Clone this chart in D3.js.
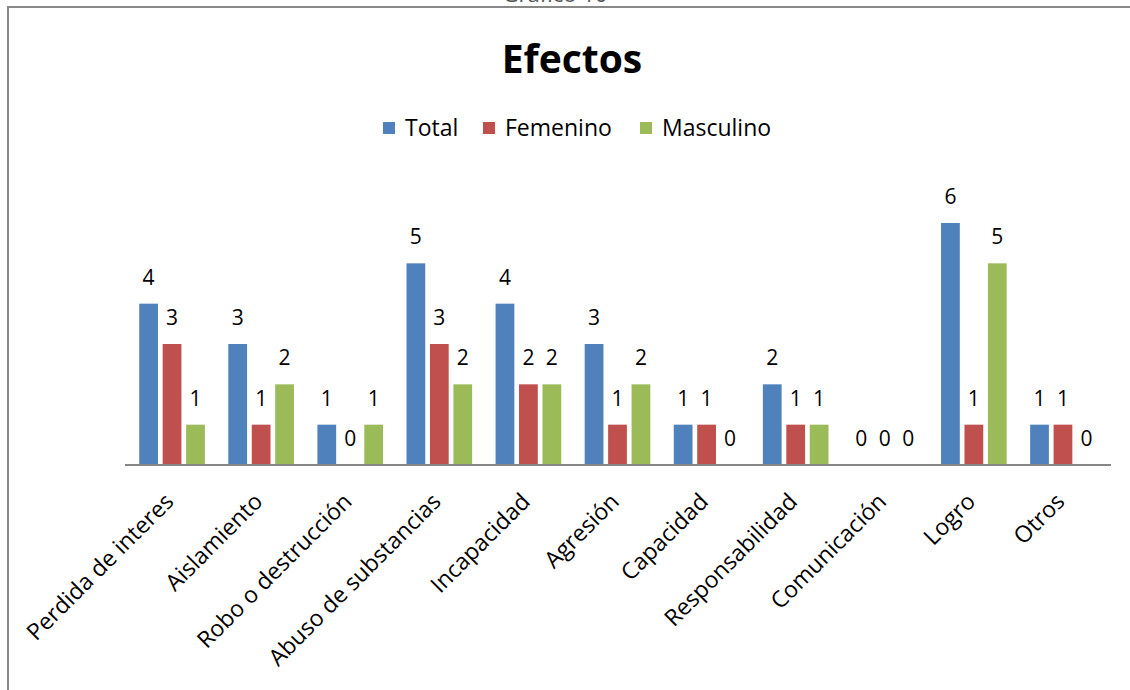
<!DOCTYPE html>
<html><head><meta charset="utf-8">
<script src="https://cdn.jsdelivr.net/npm/d3@7"></script>
<style>
html,body{margin:0;padding:0;background:#fff;overflow:hidden;width:1130px;height:690px}
text{font-family:"Open Sans",Calibri,sans-serif;fill:#000}
</style></head><body>
<svg id="c" width="1130" height="690" style="display:block"></svg>
<script>
const categories = ["Perdida de interes","Aislamiento","Robo o destrucción","Abuso de substancias","Incapacidad","Agresión","Capacidad","Responsabilidad","Comunicación","Logro","Otros"];
const seriesNames = ["Total","Femenino","Masculino"];
const totalValues = [4,3,1,5,4,3,1,2,0,6,1];
const femeninoValues = [3,1,0,3,2,1,1,1,0,1,1];
const masculinoValues = [1,2,1,2,2,2,0,1,0,5,0];
const colors = ["#4F81BD","#C0504D","#9BBB59"];
const seriesValues = [totalValues, femeninoValues, masculinoValues];

const svg = d3.select("#c");
svg.append("rect").attr("width",1130).attr("height",690).attr("fill","#fff");
// frame (top and left edges visible)
svg.append("path").attr("d","M8,700V7H1140").attr("fill","none").attr("stroke","#888").attr("stroke-width",2);
svg.append("text").attr("x",555).attr("y",2).attr("text-anchor","middle")
  .attr("font-size",22).style("fill","#555").text("Gráfico 10");

// title
svg.append("text").attr("x",572).attr("y",73).attr("text-anchor","middle")
  .attr("font-size",39).attr("font-weight","bold").text("Efectos");

const x0 = d3.scaleBand().domain(categories).range([127.5,1107.5]).padding(0);
const x1 = d3.scaleBand().domain(seriesNames).range([0,x0.bandwidth()]).paddingInner(0.2).paddingOuter(0.5);
const y = d3.scaleLinear().domain([0,6]).range([465,223]);

const data = [];
categories.forEach((c,i)=>seriesNames.forEach((s,j)=>data.push({c,s,j,v:seriesValues[j][i]})));

svg.append("g").selectAll("rect").data(data.filter(d=>d.v>0)).join("rect")
  .attr("x",d=>x0(d.c)+x1(d.s)).attr("width",x1.bandwidth())
  .attr("y",d=>y(d.v)).attr("height",d=>y(0)-y(d.v)).attr("fill",d=>colors[d.j]);

svg.append("g").selectAll("text").data(data).join("text")
  .attr("x",d=>x0(d.c)+x1(d.s)+x1.bandwidth()/2).attr("y",d=>y(d.v)-19)
  .attr("text-anchor","middle").attr("font-size",21).text(d=>d.v);

// axis
const ax = svg.append("g").attr("transform","translate(0,465)")
  .call(d3.axisBottom(x0).tickSize(0).tickPadding(0).tickSizeOuter(0));
ax.select(".domain").attr("stroke","#868686").attr("stroke-width",2).attr("d","M125,0H1111");
ax.selectAll(".tick text").attr("font-size",23)
  .style("font-family","'Open Sans',Calibri,sans-serif").style("fill","#000")
  .attr("text-anchor","end").attr("dy",0)
  .attr("transform","translate(3,38) rotate(-45)").attr("y",0).attr("x",0);

// legend
const legX = [383,483,640];
const lg = svg.append("g");
seriesNames.forEach((s,j)=>{
  lg.append("rect").attr("x",legX[j]).attr("y",122).attr("width",12).attr("height",12).attr("fill",colors[j]);
  lg.append("text").attr("x",legX[j]+22).attr("y",136).attr("font-size",23).text(s);
});
</script></body></html>
